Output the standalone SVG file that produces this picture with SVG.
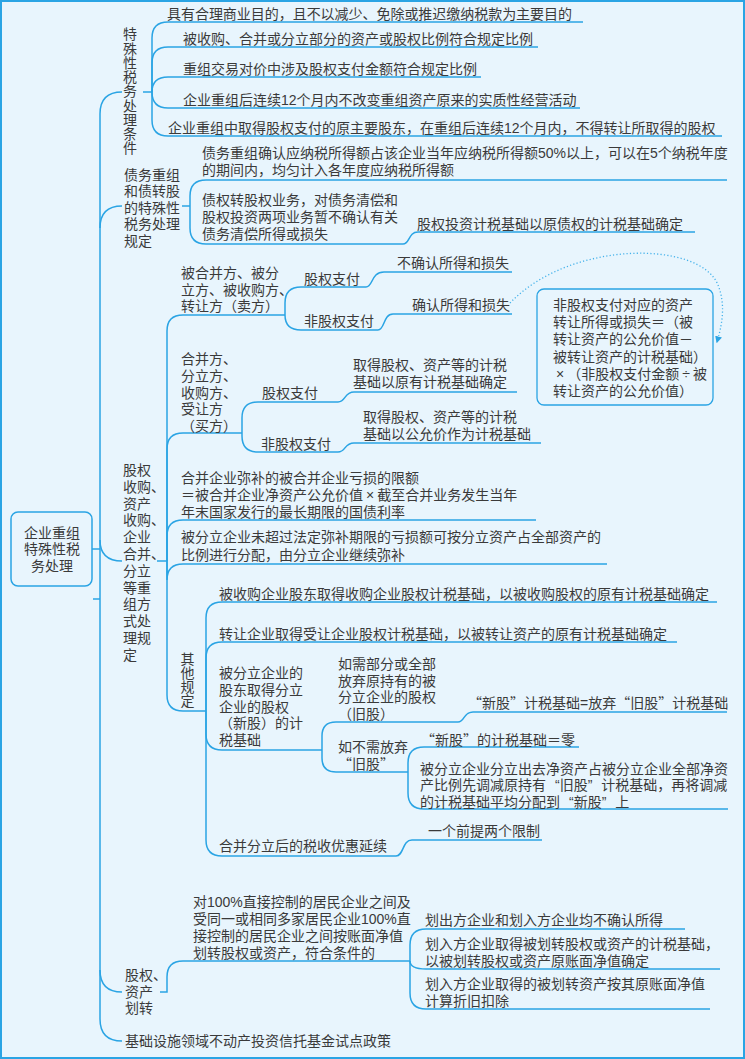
<svg xmlns="http://www.w3.org/2000/svg" width="745" height="1059" viewBox="0 0 745 1059">
<defs>
<style>
.t{font-family:"Liberation Sans","Noto Sans CJK SC",sans-serif;font-size:14px;fill:#3a3a3a}
.q{font-family:"Noto Sans CJK SC",sans-serif}
.v{font-family:"Noto Sans CJK SC",sans-serif;font-size:14px;fill:#3a3a3a;writing-mode:vertical-rl}
.m{text-anchor:middle}
.l{fill:none;stroke:#2aa4e4;stroke-width:1.5}
.d{fill:none;stroke:#45b2ea;stroke-width:1.3;stroke-dasharray:1.2 2.2}
</style>
<marker id="ah" viewBox="0 0 10 10" refX="8" refY="5" markerWidth="7" markerHeight="7" markerUnits="userSpaceOnUse" orient="auto"><path d="M0,0 L10,5 L0,10 z" fill="#2aa4e4"/></marker>
</defs>
<rect x="1" y="1" width="743" height="1057" fill="#e8f5fd" stroke="#2aa4e4" stroke-width="2"/>

<g id="connectors">
<path class="l" d="M122,92 Q100,92 100,114 V1019 Q100,1041 122,1041"/>
<path class="l" d="M92,549 H100"/>
<path class="l" d="M93,599 H100"/>
<path class="l" d="M100,228 Q100,206 122,206"/>
<path class="l" d="M100,540 Q100,561 122,561"/>
<path class="l" d="M100,970 Q100,992 122,992"/>
<path class="l" d="M143,92 H152"/>
<path class="l" d="M152,92 V38 Q152,22 168,22 H583"/>
<path class="l" d="M152,92 V63 Q152,47 168,47 H538"/>
<path class="l" d="M152,92 Q152,77 168,77 H481"/>
<path class="l" d="M152,92 Q152,108 168,108 H580"/>
<path class="l" d="M152,92 V120 Q152,136 168,136 H722"/>
<path class="l" d="M182,206 H190"/>
<path class="l" d="M190,206 V196 Q190,180 206,180 H727"/>
<path class="l" d="M190,206 V228 Q190,244 206,244 H403 C410,244 408,232 418,232 H695"/>
<path class="l" d="M157,561 H167"/>
<path class="l" d="M167,561 V331 Q167,315 183,315 H285"/>
<path class="l" d="M167,561 V449 Q167,433 183,433 H242"/>
<path class="l" d="M167,561 V536 Q167,520 183,520 H536"/>
<path class="l" d="M167,561 V580 Q167,564 183,564 H607"/>
<path class="l" d="M167,561 V695 Q167,711 183,711 H206"/>
<path class="l" d="M285,315 V303 Q285,287 301,287 H366 C373,287 371,272 384,272 H512"/>
<path class="l" d="M285,315 Q285,330 301,330 H378 C385,330 383,314 393,314 H512"/>
<path class="l" d="M242,433 V418 Q242,402 258,402 H338 C346,402 344,392 354,392 H517"/>
<path class="l" d="M242,433 V436 Q242,452 258,452 H338 C346,452 344,443 354,443 H541"/>
<path class="l" d="M206,711 V618 Q206,602 222,602 H717"/>
<path class="l" d="M206,711 V658 Q206,642 222,642 H677"/>
<path class="l" d="M206,711 V734 Q206,750 222,750 H322"/>
<path class="l" d="M206,711 V840 Q206,856 222,856 H396 C404,856 402,840 412,840 H542"/>
<path class="l" d="M322,750 V736 Q322,722 336,722 H458 C465,722 463,712 473,712 H727"/>
<path class="l" d="M322,750 V758 Q322,772 336,772 H408"/>
<path class="l" d="M408,772 V763 Q408,747 424,747 H579"/>
<path class="l" d="M408,772 V793 Q408,809 424,809 H728"/>
<path class="l" d="M160,992 H167 V977 Q167,961 183,961 H410"/>
<path class="l" d="M410,961 V945 Q410,929 426,929 H685"/>
<path class="l" d="M410,961 Q410,969 426,969 H720"/>
<path class="l" d="M410,961 V993 Q410,1009 426,1009 H710"/>
<path class="d" d="M510,303 C570,240 700,240 718,285 C726,305 722,325 717,342" marker-end="url(#ah)"/>
</g>

<g id="root">
<rect x="11" y="512" width="81" height="74" rx="7" fill="#e8f5fd" stroke="#2aa4e4" stroke-width="1.5"/>
<text class="t m"><tspan x="52" y="537.5">企业重组</tspan><tspan x="52" y="554">特殊性税</tspan><tspan x="52" y="571">务处理</tspan></text>
</g>

<g id="n-cond"><text class="v" x="130" y="27" letter-spacing="0.25">特殊性税务处理条件</text></g>
<g id="n-c1"><text class="t" x="167" y="19" textLength="405">具有合理商业目的，且不以减少、免除或推迟缴纳税款为主要目的</text></g>
<g id="n-c2"><text class="t" x="183" y="44">被收购、合并或分立部分的资产或股权比例符合规定比例</text></g>
<g id="n-c3"><text class="t" x="183" y="74">重组交易对价中涉及股权支付金额符合规定比例</text></g>
<g id="n-c4"><text class="t" x="183" y="105">企业重组后连续12个月内不改变重组资产原来的实质性经营活动</text></g>
<g id="n-c5"><text class="t" x="168" y="133">企业重组中取得股权支付的原主要股东，在重组后连续12个月内，不得转让所取得的股权</text></g>

<g id="n-debt"><text class="t"><tspan x="124" y="179.5">债务重组</tspan><tspan x="124" y="196">和债转股</tspan><tspan x="124" y="212.5">的特殊性</tspan><tspan x="124" y="229">税务处理</tspan><tspan x="124" y="245.5">规定</tspan></text></g>
<g id="n-d1"><text class="t"><tspan x="202" y="158">债务重组确认应纳税所得额占该企业当年应纳税所得额50%以上，可以在5个纳税年度</tspan><tspan x="202" y="175">的期间内，均匀计入各年度应纳税所得额</tspan></text></g>
<g id="n-d2"><text class="t"><tspan x="202" y="205">债权转股权业务，对债务清偿和</tspan><tspan x="202" y="222">股权投资两项业务暂不确认有关</tspan><tspan x="202" y="238.5">债务清偿所得或损失</tspan></text></g>
<g id="n-d3"><text class="t" x="417" y="229">股权投资计税基础以原债权的计税基础确定</text></g>

<g id="n-reorg"><text class="t"><tspan x="123" y="475">股权</tspan><tspan x="123" y="491.8">收购、</tspan><tspan x="123" y="508.6">资产</tspan><tspan x="123" y="525.4">收购、</tspan><tspan x="123" y="542.2">企业</tspan><tspan x="123" y="559">合并、</tspan><tspan x="123" y="575.8">分立</tspan><tspan x="123" y="592.6">等重</tspan><tspan x="123" y="609.4">组方</tspan><tspan x="123" y="626.2">式处</tspan><tspan x="123" y="643">理规</tspan><tspan x="123" y="659.8">定</tspan></text></g>
<g id="n-seller"><text class="t"><tspan x="181" y="278">被合并方、被分</tspan><tspan x="181" y="294.5">立方、被收购方、</tspan><tspan x="181" y="311">转让方（卖方）</tspan></text></g>
<g id="n-s-eq"><text class="t" x="304" y="284">股权支付</text></g>
<g id="n-s-eq-r"><text class="t" x="397" y="268">不确认所得和损失</text></g>
<g id="n-s-neq"><text class="t" x="304" y="326">非股权支付</text></g>
<g id="n-s-neq-r"><text class="t" x="412" y="310">确认所得和损失</text></g>
<g id="n-formula">
<rect x="537" y="289" width="176" height="116" rx="7" fill="#e8f5fd" stroke="#2aa4e4" stroke-width="1.3"/>
<text class="t"><tspan x="553" y="310">非股权支付对应的资产</tspan><tspan x="553" y="327">转让所得或损失＝（被</tspan><tspan x="553" y="344">转让资产的公允价值－</tspan><tspan x="553" y="361.5">被转让资产的计税基础）</tspan><tspan x="556" y="378.5">×<tspan dx="3">（非股权支付金额</tspan><tspan dx="3">÷</tspan><tspan dx="3">被</tspan></tspan><tspan x="553" y="395.5">转让资产的公允价值）</tspan></text>
</g>
<g id="n-buyer"><text class="t"><tspan x="181" y="364">合并方、</tspan><tspan x="181" y="381">分立方、</tspan><tspan x="181" y="397.5">收购方、</tspan><tspan x="181" y="414">受让方</tspan><tspan x="181" y="431">（买方）</tspan></text></g>
<g id="n-b-eq"><text class="t" x="262" y="398">股权支付</text></g>
<g id="n-b-eq-r"><text class="t"><tspan x="353" y="370">取得股权、资产等的计税</tspan><tspan x="353" y="387">基础以原有计税基础确定</tspan></text></g>
<g id="n-b-neq"><text class="t" x="261" y="449">非股权支付</text></g>
<g id="n-b-neq-r"><text class="t"><tspan x="363" y="422">取得股权、资产等的计税</tspan><tspan x="363" y="439">基础以公允价作为计税基础</tspan></text></g>
<g id="n-loss1"><text class="t"><tspan x="181" y="483">合并企业弥补的被合并企业亏损的限额</tspan><tspan x="181" y="500">＝被合并企业净资产公允价值<tspan dx="3">×</tspan><tspan dx="3">截至合并业务发生当年</tspan></tspan><tspan x="181" y="517">年末国家发行的最长期限的国债利率</tspan></text></g>
<g id="n-loss2"><text class="t"><tspan x="181" y="542">被分立企业未超过法定弥补期限的亏损额可按分立资产占全部资产的</tspan><tspan x="181" y="559.5">比例进行分配，由分立企业继续弥补</tspan></text></g>
<g id="n-other"><text class="v" x="187.5" y="652">其他规定</text></g>
<g id="n-o1"><text class="t" x="219" y="599">被收购企业股东取得收购企业股权计税基础，以被收购股权的原有计税基础确定</text></g>
<g id="n-o2"><text class="t" x="219" y="639">转让企业取得受让企业股权计税基础，以被转让资产的原有计税基础确定</text></g>
<g id="n-o3"><text class="t"><tspan x="219" y="678">被分立企业的</tspan><tspan x="219" y="694.8">股东取得分立</tspan><tspan x="219" y="711.5">企业的股权</tspan><tspan x="219" y="728.3">（新股）的计</tspan><tspan x="219" y="745">税基础</tspan></text></g>
<g id="n-o3a"><text class="t"><tspan x="338" y="669">如需部分或全部</tspan><tspan x="338" y="685.7">放弃原持有的被</tspan><tspan x="338" y="702.3">分立企业的股权</tspan><tspan x="338" y="719">（旧股）</tspan></text></g>
<g id="n-o3a-r"><text class="t" x="468" y="708"><tspan class="q">“</tspan>新股<tspan class="q">”</tspan>计税基础=放弃<tspan class="q">“</tspan>旧股<tspan class="q">”</tspan>计税基础</text></g>
<g id="n-o3b"><text class="t"><tspan x="338" y="752">如不需放弃</tspan><tspan x="338" y="769"><tspan class="q">“</tspan>旧股<tspan class="q">”</tspan></tspan></text></g>
<g id="n-o3b-r1"><text class="t" x="421" y="745"><tspan class="q">“</tspan>新股<tspan class="q">”</tspan>的计税基础＝零</text></g>
<g id="n-o3b-r2"><text class="t"><tspan x="420" y="773.5">被分立企业分立出去净资产占被分立企业全部净资</tspan><tspan x="420" y="790.3">产比例先调减原持有<tspan dx="9">“</tspan>旧股”<tspan dx="9">计税基础，再将调减</tspan></tspan><tspan x="420" y="807">的计税基础平均分配到<tspan dx="9">“</tspan>新股”<tspan dx="9">上</tspan></tspan></text></g>
<g id="n-o4"><text class="t" x="219" y="851">合并分立后的税收优惠延续</text></g>
<g id="n-o4-r"><text class="t" x="428" y="836">一个前提两个限制</text></g>

<g id="n-transfer"><text class="t"><tspan x="125" y="980">股权、</tspan><tspan x="125" y="996.5">资产</tspan><tspan x="125" y="1013">划转</tspan></text></g>
<g id="n-t1"><text class="t"><tspan x="193" y="907">对100%直接控制的居民企业之间及</tspan><tspan x="193" y="924">受同一或相同多家居民企业100%直</tspan><tspan x="193" y="941">接控制的居民企业之间按账面净值</tspan><tspan x="193" y="958">划转股权或资产，符合条件的</tspan></text></g>
<g id="n-t1a"><text class="t" x="425" y="925">划出方企业和划入方企业均不确认所得</text></g>
<g id="n-t1b"><text class="t"><tspan x="425" y="949">划入方企业取得被划转股权或资产的计税基础，</tspan><tspan x="425" y="966">以被划转股权或资产原账面净值确定</tspan></text></g>
<g id="n-t1c"><text class="t"><tspan x="425" y="989">划入方企业取得的被划转资产按其原账面净值</tspan><tspan x="425" y="1006">计算折旧扣除</tspan></text></g>

<g id="n-reits"><text class="t" x="125" y="1046">基础设施领域不动产投资信托基金试点政策</text></g>
</svg>
